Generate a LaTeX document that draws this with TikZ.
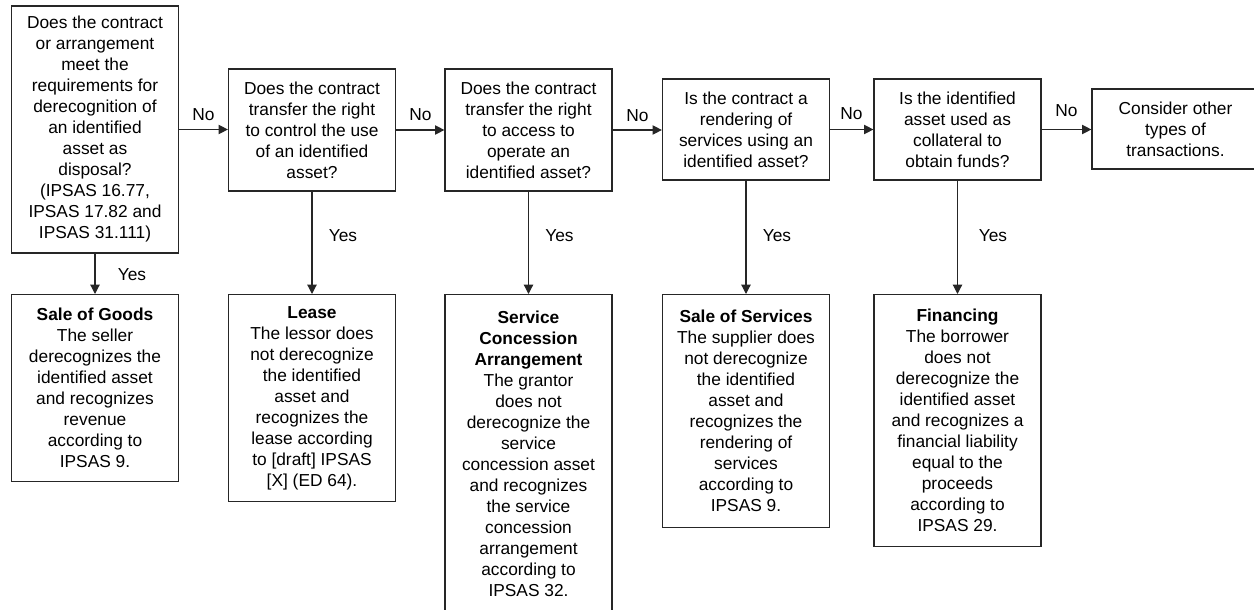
\documentclass[tikz,border=0pt]{standalone}
\usepackage{fontspec}
\setmainfont{Liberation Sans}
\usetikzlibrary{arrows.meta}
\begin{document}
\begin{tikzpicture}[x=0.75pt,y=-0.75pt,
  box/.style={draw=black!85,line width=0.9pt,fill=white,align=center,inner sep=0pt,
    minimum width=125.25pt,font=\fontsize{13pt}{15.75pt}\selectfont},
  qbox/.style={box,anchor=center},
  abox/.style={box,anchor=north},
  lbl/.style={font=\fontsize{13pt}{15.75pt}\selectfont,inner sep=0pt},
  arr/.style={draw=black!85,line width=0.9pt,-{Triangle[length=7pt,width=7pt]}}]
\useasboundingbox (0,0) rectangle (1254,610);
\clip (0,0) rectangle (1254,610);
% question boxes
\node[qbox,minimum height=185.25pt] (q1) at (95,129.5) {Does the contract\\or arrangement\\meet the\\requirements for\\derecognition of\\an identified\\asset as\\disposal?\\(IPSAS 16.77,\\IPSAS 17.82 and\\IPSAS 31.111)};
\node[qbox,minimum height=91.5pt] (q2) at (312,130) {Does the contract\\transfer the right\\to control the use\\of an identified\\asset?};
\node[qbox,minimum height=91.5pt] (q3) at (528.5,130) {Does the contract\\transfer the right\\to access to\\operate an\\identified asset?};
\node[qbox,minimum height=75.75pt] (q4) at (746,129.5) {Is the contract a\\rendering of\\services using an\\identified asset?};
\node[qbox,minimum height=75.75pt] (q5) at (957.5,129.5) {Is the identified\\asset used as\\collateral to\\obtain funds?};
\node[qbox,minimum height=60pt] (q6) at (1175.5,129) {Consider other\\types of\\transactions.};
% answer boxes
\node[abox,minimum height=140.25pt] (a1) at (95,294) {\textbf{Sale of Goods}\\The seller\\derecognizes the\\identified asset\\and recognizes\\revenue\\according to\\IPSAS 9.};
\node[abox,minimum height=155.25pt] (a2) at (312,294) {\textbf{Lease}\\The lessor does\\not derecognize\\the identified\\asset and\\recognizes the\\lease according\\to [draft] IPSAS\\{[X]} (ED 64).};
\node[abox,minimum height=238.5pt] (a3) at (528.5,294) {\textbf{Service}\\\textbf{Concession}\\\textbf{Arrangement}\\The grantor\\does not\\derecognize the\\service\\concession asset\\and recognizes\\the service\\concession\\arrangement\\according to\\IPSAS 32.};
\node[abox,minimum height=174.75pt] (a4) at (746,294) {\textbf{Sale of Services}\\The supplier does\\not derecognize\\the identified\\asset and\\recognizes the\\rendering of\\services\\according to\\IPSAS 9.};
\node[abox,minimum height=189pt] (a5) at (957.5,294) {\textbf{Financing}\\The borrower\\does not\\derecognize the\\identified asset\\and recognizes a\\financial liability\\equal to the\\proceeds\\according to\\IPSAS 29.};
% No connectors
\draw[arr] (q1.east) -- (q2.west |- q1.east);
\draw[arr] (q2.east) -- (q3.west |- q2.east);
\draw[arr] (q3.east) -- (q4.west |- q3.east);
\draw[arr] (q4.east) -- (q5.west |- q4.east);
\draw[arr] (q5.east) -- (q6.west |- q5.east);
\node[lbl] (n1) at (203.5,115) {No};
\node[lbl] (n2) at (420.5,115) {No};
\node[lbl] (n3) at (637.5,116) {No};
\node[lbl] (n4) at (851.5,114) {No};
\node[lbl] (n5) at (1066.5,111) {No};
% Yes connectors
\draw[arr] (q1.south) -- (a1.north);
\draw[arr] (q2.south) -- (a2.north);
\draw[arr] (q3.south) -- (a3.north);
\draw[arr] (q4.south) -- (a4.north);
\draw[arr] (q5.south) -- (a5.north);
\node[lbl] (y1) at (132,275) {Yes};
\node[lbl] (y2) at (343,236) {Yes};
\node[lbl] (y3) at (559.5,236) {Yes};
\node[lbl] (y4) at (777,236) {Yes};
\node[lbl] (y5) at (993,236) {Yes};
\end{tikzpicture}
\end{document}
